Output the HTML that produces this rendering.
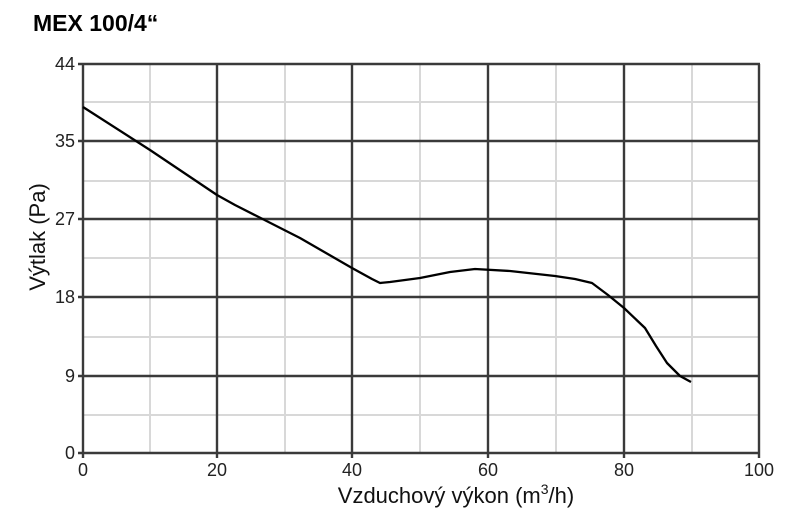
<!DOCTYPE html>
<html><head><meta charset="utf-8"><style>
body{margin:0;background:#fff;}
svg{display:block;font-family:"Liberation Sans",sans-serif;}
</style></head><body>
<svg width="791" height="512" xmlns="http://www.w3.org/2000/svg">
<text x="33" y="31" font-size="23" font-weight="bold" fill="#000">MEX 100/4“</text>
<g stroke="#d8d8d8" stroke-width="2">
<line x1="150" y1="64" x2="150" y2="453"/><line x1="285" y1="64" x2="285" y2="453"/>
<line x1="420" y1="64" x2="420" y2="453"/><line x1="556" y1="64" x2="556" y2="453"/>
<line x1="692" y1="64" x2="692" y2="453"/>
<line x1="83" y1="102" x2="760" y2="102"/><line x1="83" y1="181" x2="760" y2="181"/>
<line x1="83" y1="258" x2="760" y2="258"/><line x1="83" y1="337" x2="760" y2="337"/>
<line x1="83" y1="415" x2="760" y2="415"/>
</g>
<g stroke="#3a3a3a" stroke-width="2.4">
<line x1="83" y1="64" x2="83" y2="458"/><line x1="217" y1="64" x2="217" y2="458"/>
<line x1="352" y1="64" x2="352" y2="458"/><line x1="488" y1="64" x2="488" y2="458"/>
<line x1="624" y1="64" x2="624" y2="458"/><line x1="759" y1="64" x2="759" y2="458"/>
<line x1="78" y1="64" x2="760" y2="64"/><line x1="78" y1="141" x2="760" y2="141"/>
<line x1="78" y1="219" x2="760" y2="219"/><line x1="78" y1="297" x2="760" y2="297"/>
<line x1="78" y1="376" x2="760" y2="376"/><line x1="78" y1="453" x2="760" y2="453"/>
</g>
<polyline fill="none" stroke="#000" stroke-width="2.3" stroke-linejoin="round" points="83,107 150,150 217,195 235,205 300,238 352,268 372,279 380,283 390,282 420,278 450,272 475,269 510,271 555,276 575,279 592,283 608,295 624,308 645,328 656,346 667,363 680,376 691,382"/>
<g font-size="18" fill="#222" text-anchor="end">
<text x="75" y="70">44</text><text x="75" y="147">35</text><text x="75" y="225">27</text>
<text x="75" y="303">18</text><text x="75" y="382">9</text><text x="75" y="459">0</text>
</g>
<g font-size="18" fill="#222" text-anchor="middle">
<text x="83" y="476">0</text><text x="217" y="476">20</text><text x="352" y="476">40</text>
<text x="488" y="476">60</text><text x="624" y="476">80</text><text x="759" y="476">100</text>
</g>
<text x="456" y="503" font-size="22" fill="#111" text-anchor="middle">Vzduchový výkon (m<tspan font-size="14" dy="-9">3</tspan><tspan dy="9">/h)</tspan></text>
<text transform="translate(45,237) rotate(-90)" font-size="22" fill="#111" text-anchor="middle">Výtlak (Pa)</text>
</svg>
</body></html>
